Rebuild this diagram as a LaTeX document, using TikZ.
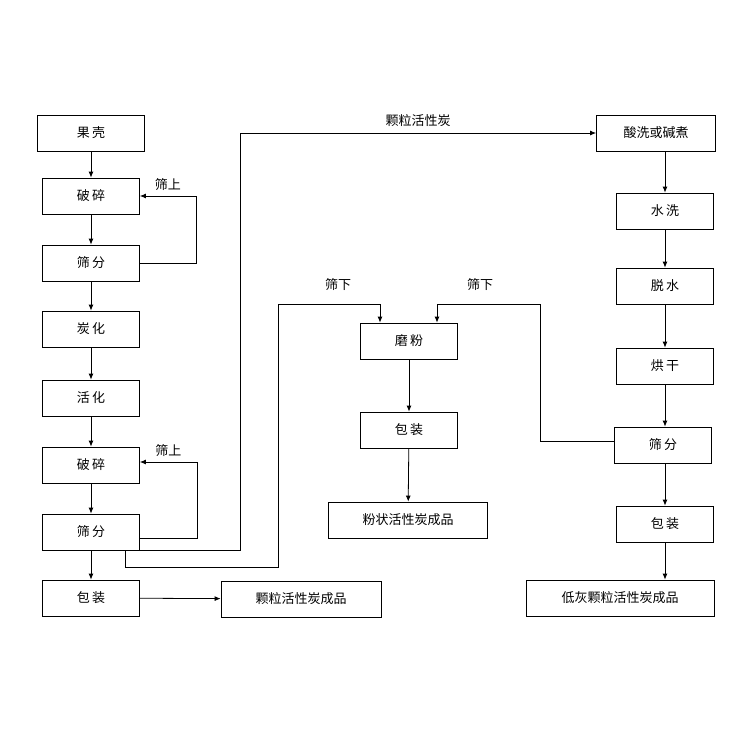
\documentclass[tikz,border=0pt]{standalone}
\usepackage{fontspec}
\newfontfamily\cjk{Noto Sans CJK SC}
\usetikzlibrary{arrows.meta,positioning}
\tikzstyle{stepnode} = [rectangle, draw, thick, minimum width=97pt, minimum height=36pt, inner sep=0pt]
\tikzstyle{prodnode} = [rectangle, draw, thick, minimum height=36pt, inner sep=0pt]
\tikzstyle{line} = [draw, thick, -{Latex[length=6pt,width=5pt]}]
\tikzstyle{plain} = [draw, thick]
\begin{document}
\begin{tikzpicture}[x=1pt,y=-1pt, every node/.style={font=\cjk\fontsize{13}{15}\selectfont}]
    \useasboundingbox (0,0) rectangle (750,750);
    % left column
    \node [stepnode, minimum width=107pt] (shell)  at (91,133) {果\,壳};
    \node [stepnode] (crushA) at (91,196) {破\,碎};
    \node [stepnode] (sieveA) at (91,263) {筛\,分};
    \node [stepnode] (carbon) at (91,329) {炭\,化};
    \node [stepnode] (activ)  at (91,398) {活\,化};
    \node [stepnode] (crushB) at (91,465) {破\,碎};
    \node [stepnode] (sieveB) at (91,532) {筛\,分};
    \node [stepnode] (packL)  at (91,598) {包\,装};
    \node [prodnode, minimum width=160pt] (prodL) at (301,599) {颗粒活性炭成品};
    % middle column
    \node [stepnode] (grind) at (409,341) {磨\,粉};
    \node [stepnode] (packM) at (409,430) {包\,装};
    \node [prodnode, minimum width=159pt] (prodM) at (408,520) {粉状活性炭成品};
    % right column
    \node [stepnode, minimum width=119pt] (acid) at (656,133) {酸洗或碱煮};
    \node [stepnode] (wash)   at (665,211) {水\,洗};
    \node [stepnode] (dewat)  at (665,286) {脱\,水};
    \node [stepnode] (dry)    at (665,366) {烘\,干};
    \node [stepnode] (sieveR) at (663,445) {筛\,分};
    \node [stepnode] (packR)  at (665,524) {包\,装};
    \node [prodnode, minimum width=188pt] (prodR) at (620,598) {低灰颗粒活性炭成品};

    \path [line] (shell) -- (crushA);
    \path [line] (crushA) -- (sieveA);
    \path [line] (sieveA) -- (carbon);
    \path [line] (carbon) -- (activ);
    \path [line] (activ) -- (crushB);
    \path [line] (crushB) -- (sieveB);
    \path [line] (sieveB) -- (packL);
    \path [line] (packL) -- (prodL);
    \path [line] (sieveA.east) -- ++(56,0) |- node [pos=0.75, above, yshift=2pt] {筛上} (crushA.east);
    \path [line] ([yshift=-6pt]sieveB.east) -- ++(57,0) |- node [pos=0.75, above, yshift=2pt] {筛上} ([yshift=3pt]crushB.east);
    \path [line] (sieveB.south east) -- ++(100,0) |- node [pos=0.75, above, yshift=3pt] {颗粒活性炭} (acid.west);
    \path [line] ([xshift=34pt]sieveB.south) -- ++(0,17) -| (278,304) -| ([xshift=-29pt]grind.north);
    \node at (338,285) {筛下};
    \path [line] ([yshift=4pt]sieveR.west) -| (540,304) -| ([xshift=28pt]grind.north);
    \node at (480,285) {筛下};
    \path [line] (grind) -- (packM);
    \path [line] (packM) -- (prodM);
    \path [line] (acid.south -| wash) -- (wash);
    \path [line] (wash) -- (dewat);
    \path [line] (dewat) -- (dry);
    \path [line] (dry) -- (dry |- sieveR.north);
    \path [line] (sieveR.south -| packR) -- (packR);
    \path [line] (packR) -- (packR |- prodR.north);
\end{tikzpicture}
\end{document}
